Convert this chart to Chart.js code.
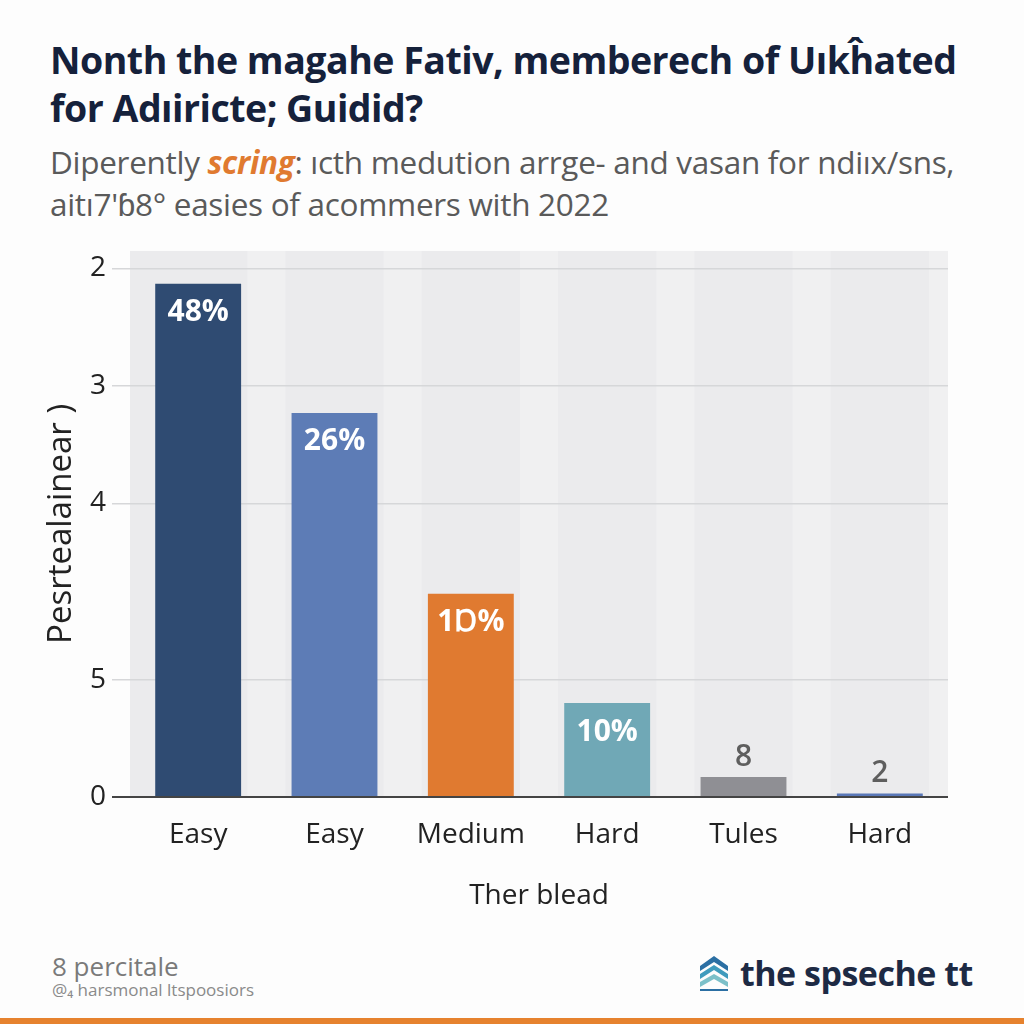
<!DOCTYPE html>
<html>
<head>
<meta charset="utf-8">
<script src="https://cdn.jsdelivr.net/npm/chart.js@4.4.0/dist/chart.umd.min.js"></script>
<style>
  html, body { margin: 0; padding: 0; background: #fdfdfd; }
  body { width: 1024px; height: 1024px; position: relative; overflow: hidden; font-family: "Open Sans", sans-serif; }
  .title { position: absolute; left: 50px; top: 36px; font-weight: 700; font-size: 37.5px; line-height: 48px; color: #15213b; letter-spacing: -0.5px; }
  .subtitle { position: absolute; left: 50px; top: 141px; font-size: 31.5px; line-height: 42px; color: #5a5a5a; letter-spacing: -0.3px; }
  .subtitle em { color: #e07a30; font-weight: 700; }
  #wrap { position: absolute; left: 0; top: 228px; width: 1024px; height: 692px; }
  .foot1 { position: absolute; left: 52px; top: 948px; font-size: 26px; color: #7a7a7a; }
  .foot2 { position: absolute; left: 52px; top: 978px; font-size: 17px; color: #8a8a8a; }
  .logo { position: absolute; left: 698px; top: 950px; display: flex; align-items: center; }
  .logo span { font-weight: 700; font-size: 34px; color: #1d2a44; margin-left: 10px; letter-spacing: -0.5px; }
  .bottom-line { position: absolute; left: 0; top: 1018px; width: 1024px; height: 6px; background: #e6822e; }
</style>
</head>
<body>
<div class="title">Nonth the magahe Fativ, memberech of Uıkĥated<br>for Adıiricte; Guidid?</div>
<div class="subtitle">Diperently <em>scring</em>: ıcth medution arrge- and vasan for ndiıx/sns,<br>aitı7'ɓ8° easies of acommers with 2022</div>
<div id="wrap"><canvas id="bar-chart" width="1024" height="692"></canvas></div>
<div class="foot1">8 percitale</div>
<div class="foot2">@₄ harsmonal ltspoosiors</div>
<div class="logo">
  <svg width="32" height="38" viewBox="0 0 32 38">
    <path d="M16 2 L30 12 L30 17 L16 8 L2 17 L2 12 Z" fill="#2b6fa3"/>
    <path d="M16 11 L30 20 L30 25 L16 16 L2 25 L2 20 Z" fill="#3f9bbd"/>
    <path d="M16 20 L30 28 L30 33 L16 25 L2 33 L2 28 Z" fill="#7cc0c9"/>
    <path d="M2 35 L30 35 L30 37 L2 37 Z" fill="#2b6fa3"/>
  </svg>
  <span>the spseche tt</span>
</div>
<div class="bottom-line"></div>
<script>
// chart values
const categories = ['Easy', 'Easy', 'Medium', 'Hard', 'Tules', 'Hard'];
const values = [43.7, 32.7, 17.3, 8.0, 1.7, 0.3];
const valueLabels = ['48%', '26%', '1Ɒ%', '10%', '8', '2'];
const barColors = ['#2f4b72', '#5d7cb6', '#e07a30', '#70a8b6', '#8f8f94', '#5a78b8'];
const tickValues = [0, 10, 25, 35, 45];
const tickLabels = ['0', '5', '4', '3', '2'];

const canvas = document.querySelector('#bar-chart');

// light plot background with soft vertical bands
const plotBackground = {
  id: 'plotBackground',
  beforeDraw(chart) {
    const { ctx, chartArea: a, scales: { x } } = chart;
    ctx.save();
    ctx.beginPath();
    ctx.rect(a.left, a.top, a.right - a.left, a.bottom - a.top);
    ctx.clip();
    ctx.fillStyle = '#ebebed';
    ctx.fillRect(a.left, a.top, a.right - a.left, a.bottom - a.top);
    const step = (a.right - a.left) / categories.length;
    ctx.fillStyle = '#f0f0f1';
    for (let i = 0; i < categories.length; i++) {
      const cx = x.getPixelForValue(i);
      ctx.fillRect(cx + step * 0.36, a.top, step * 0.28, a.bottom - a.top);
    }
    ctx.restore();
  }
};

// value labels inside / above the bars
const barLabels = {
  id: 'barLabels',
  afterDatasetsDraw(chart) {
    const { ctx } = chart;
    const meta = chart.getDatasetMeta(0);
    ctx.save();
    ctx.textAlign = 'center';
    ctx.textBaseline = 'middle';
    meta.data.forEach((bar, i) => {
      const inside = (bar.base - bar.y) > 60;
      if (inside) {
        ctx.fillStyle = '#ffffff';
        ctx.font = 'bold 30px "Open Sans"';
        ctx.fillText(valueLabels[i], bar.x, bar.y + 29);
      } else {
        ctx.fillStyle = '#5e5e5e';
        ctx.font = '600 30px "Open Sans"';
        ctx.fillText(valueLabels[i], bar.x, bar.y - 20);
      }
    });
    ctx.restore();
  }
};

new Chart(canvas, {
  type: 'bar',
  data: {
    labels: categories,
    datasets: [{
      data: values,
      backgroundColor: barColors,
      barPercentage: 0.63,
      categoryPercentage: 1.0
    }]
  },
  options: {
    responsive: false,
    animation: false,
    layout: { padding: { top: 0, right: 76, left: 0, bottom: 0 } },
    plugins: {
      legend: { display: false },
      tooltip: { enabled: false }
    },
    scales: {
      x: {
        afterFit: (scale) => { scale.height = 123; },
        grid: { display: false, drawTicks: false },
        border: { display: false },
        ticks: { color: '#222', font: { family: 'Open Sans', size: 28 }, padding: 21 },
        title: {
          display: true,
          text: 'Ther blead',
          color: '#222',
          font: { family: 'Open Sans', size: 28 },
          padding: { top: 0, bottom: 7 }
        }
      },
      y: {
        min: 0,
        max: 46.5,
        afterFit: (scale) => { scale.width = 130; },
        afterBuildTicks: (scale) => { scale.ticks = tickValues.map((v) => ({ value: v })); },
        grid: {
          color: (c) => (c.tick && c.tick.value === 0 ? '#444' : '#d6d7d9'),
          lineWidth: (c) => (c.tick && c.tick.value === 0 ? 2 : 1.5),
          tickLength: 18
        },
        border: { display: false },
        ticks: {
          color: '#222',
          font: { family: 'Open Sans', size: 28 },
          padding: 6,
          callback: (v) => tickLabels[tickValues.indexOf(v)]
        },
        title: {
          display: true,
          text: 'Pesrtealainear )',
          color: '#222',
          font: { family: 'Open Sans', size: 33 },
          padding: { top: 42, bottom: 0 }
        }
      }
    }
  },
  plugins: [plotBackground, barLabels]
});
</script>
</body>
</html>
